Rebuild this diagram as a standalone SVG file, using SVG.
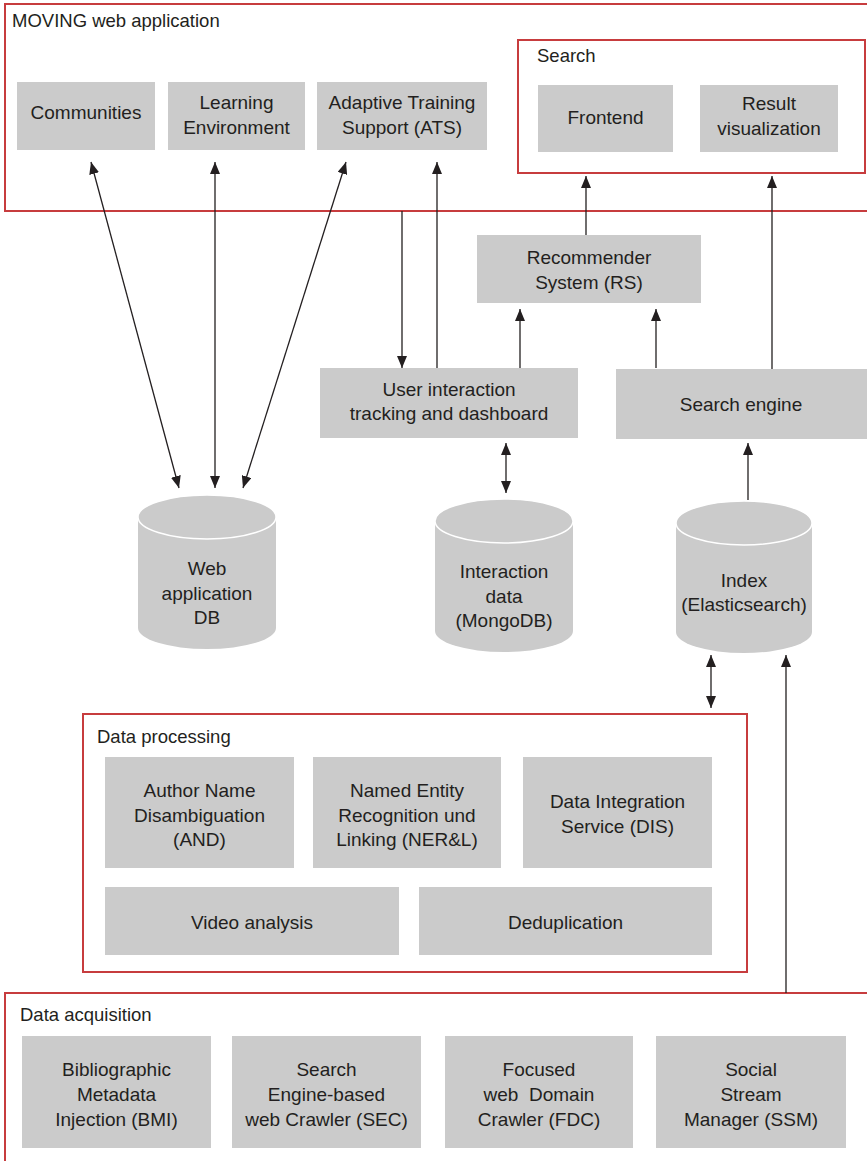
<svg xmlns="http://www.w3.org/2000/svg" width="867" height="1161" viewBox="0 0 867 1161">
<defs>
<marker id="ah" viewBox="0 0 12 10" refX="12" refY="5" markerWidth="12" markerHeight="10" markerUnits="userSpaceOnUse" orient="auto-start-reverse">
<path d="M0,0 L12,5 L0,10 Z" fill="#231f20"/>
</marker>
</defs>
<style>
.frame{fill:#fff;stroke:#c73c3e;stroke-width:2}
.inner{fill:none;stroke:#c73c3e;stroke-width:2}
.box{fill:#cbcbcb}
.cyl{fill:#cbcbcb}
.top{fill:#cbcbcb;stroke:#fff;stroke-width:1.5}
text{font-family:"Liberation Sans",Arial,sans-serif;fill:#231f20}
.t{font-size:19px;text-anchor:middle}
.h{font-size:18.5px}
.c{stroke:#231f20;stroke-width:1.3;fill:none}
.u{marker-end:url(#ah)}
.b{marker-start:url(#ah);marker-end:url(#ah)}
</style>
<rect width="867" height="1161" fill="#fff"/>

<g id="moving">
<rect class="frame" x="5" y="4" width="868" height="207"/>
<text class="h" x="12" y="27">MOVING web application</text>
</g>
<g id="search">
<rect class="inner" x="518" y="40" width="347" height="133"/>
<text class="h" x="537" y="62">Search</text>
</g>
<g id="communities">
<rect class="box" x="17" y="82" width="138" height="68"/>
<text class="t" x="86" y="119">Communities</text>
</g>
<g id="learning">
<rect class="box" x="168" y="82" width="137" height="68"/>
<text class="t" x="236.5" y="109">Learning</text>
<text class="t" x="236.5" y="134">Environment</text>
</g>
<g id="ats">
<rect class="box" x="317" y="82" width="170" height="68"/>
<text class="t" x="402" y="109">Adaptive Training</text>
<text class="t" x="402" y="134">Support (ATS)</text>
</g>
<g id="frontend">
<rect class="box" x="538" y="85" width="135" height="67"/>
<text class="t" x="605.5" y="124">Frontend</text>
</g>
<g id="resultvis">
<rect class="box" x="700" y="85" width="138" height="67"/>
<text class="t" x="769" y="110">Result</text>
<text class="t" x="769" y="135">visualization</text>
</g>
<g id="rs">
<rect class="box" x="477" y="235" width="224" height="68"/>
<text class="t" x="589" y="264">Recommender</text>
<text class="t" x="589" y="289">System (RS)</text>
</g>
<g id="uitrack">
<rect class="box" x="320" y="368" width="258" height="70"/>
<text class="t" x="449" y="396">User interaction</text>
<text class="t" x="449" y="420">tracking and dashboard</text>
</g>
<g id="searchengine">
<rect class="box" x="616" y="369" width="251" height="70"/>
<text class="t" x="741" y="411">Search engine</text>
</g>
<g id="webdb">
<path class="cyl" d="M138,517 L138,628 A69,21 0 0 0 276,628 L276,517 Z"/>
<ellipse class="top" cx="207" cy="517" rx="69" ry="22"/>
<text class="t" x="207" y="575">Web</text>
<text class="t" x="207" y="600">application</text>
<text class="t" x="207" y="624">DB</text>
</g>
<g id="mongodb">
<path class="cyl" d="M435,521 L435,631 A69,21 0 0 0 573,631 L573,521 Z"/>
<ellipse class="top" cx="504" cy="521" rx="69" ry="22"/>
<text class="t" x="504" y="578">Interaction</text>
<text class="t" x="504" y="603">data</text>
<text class="t" x="504" y="627">(MongoDB)</text>
</g>
<g id="index">
<path class="cyl" d="M676,523 L676,632 A68,21 0 0 0 812,632 L812,523 Z"/>
<ellipse class="top" cx="744" cy="523" rx="68" ry="22"/>
<text class="t" x="744" y="587">Index</text>
<text class="t" x="744" y="611">(Elasticsearch)</text>
</g>
<g id="dataprocessing">
<rect class="frame" x="83" y="714" width="664" height="258"/>
<text class="h" x="97" y="743">Data processing</text>
</g>
<g id="and">
<rect class="box" x="105" y="757" width="189" height="111"/>
<text class="t" x="199.5" y="797">Author Name</text>
<text class="t" x="199.5" y="822">Disambiguation</text>
<text class="t" x="199.5" y="846">(AND)</text>
</g>
<g id="nerl">
<rect class="box" x="313" y="757" width="188" height="111"/>
<text class="t" x="407" y="797">Named Entity</text>
<text class="t" x="407" y="822">Recognition und</text>
<text class="t" x="407" y="846">Linking (NER&amp;L)</text>
</g>
<g id="dis">
<rect class="box" x="523" y="757" width="189" height="111"/>
<text class="t" x="617.5" y="808">Data Integration</text>
<text class="t" x="617.5" y="833">Service (DIS)</text>
</g>
<g id="video">
<rect class="box" x="105" y="887" width="294" height="68"/>
<text class="t" x="252" y="929">Video analysis</text>
</g>
<g id="dedup">
<rect class="box" x="419" y="887" width="293" height="68"/>
<text class="t" x="565.5" y="929">Deduplication</text>
</g>
<g id="dataacquisition">
<rect class="frame" x="5" y="993" width="868" height="175"/>
<text class="h" x="20" y="1021">Data acquisition</text>
</g>
<g id="bmi">
<rect class="box" x="22" y="1036" width="189" height="112"/>
<text class="t" x="116.5" y="1076">Bibliographic</text>
<text class="t" x="116.5" y="1101">Metadata</text>
<text class="t" x="116.5" y="1126">Injection (BMI)</text>
</g>
<g id="sec">
<rect class="box" x="232" y="1036" width="189" height="112"/>
<text class="t" x="326.5" y="1076">Search</text>
<text class="t" x="326.5" y="1101">Engine-based</text>
<text class="t" x="326.5" y="1126">web Crawler (SEC)</text>
</g>
<g id="fdc">
<rect class="box" x="445" y="1036" width="188" height="112"/>
<text class="t" x="539" y="1076">Focused</text>
<text class="t" x="539" y="1101" xml:space="preserve">web  Domain</text>
<text class="t" x="539" y="1126">Crawler (FDC)</text>
</g>
<g id="ssm">
<rect class="box" x="656" y="1036" width="190" height="112"/>
<text class="t" x="751" y="1076">Social</text>
<text class="t" x="751" y="1101">Stream</text>
<text class="t" x="751" y="1126">Manager (SSM)</text>
</g>

<g id="connectors">
<line class="c b" x1="91" y1="162" x2="179" y2="488"/>
<line class="c b" x1="215" y1="162" x2="215" y2="488"/>
<line class="c b" x1="346" y1="162" x2="243" y2="488"/>
<line class="c u" x1="437" y1="368" x2="437" y2="162"/>
<line class="c u" x1="402" y1="211" x2="402" y2="368"/>
<line class="c u" x1="586" y1="235" x2="586" y2="176"/>
<line class="c u" x1="772" y1="369" x2="772" y2="176"/>
<line class="c u" x1="520" y1="368" x2="520" y2="309"/>
<line class="c u" x1="656" y1="368" x2="656" y2="309"/>
<line class="c b" x1="506" y1="443" x2="506" y2="493"/>
<line class="c u" x1="748" y1="500" x2="748" y2="443"/>
<line class="c b" x1="711" y1="655" x2="711" y2="708"/>
<line class="c u" x1="786" y1="993" x2="786" y2="655"/>
</g>
</svg>
